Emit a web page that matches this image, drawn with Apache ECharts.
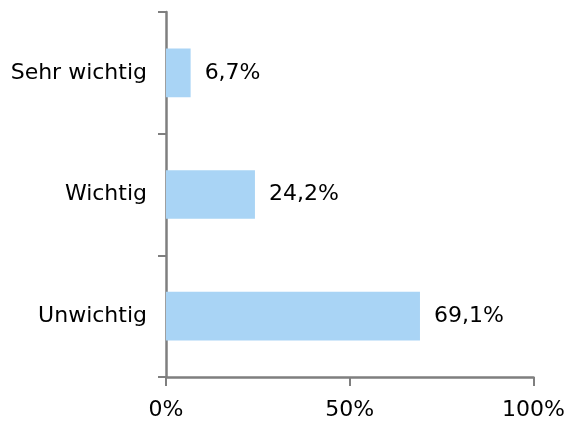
<!DOCTYPE html>
<html>
<head>
<meta charset="utf-8">
<script src="https://cdn.jsdelivr.net/npm/echarts@6/dist/echarts.min.js"></script>
<style>
  html, body { margin: 0; padding: 0; background: #fff; }
  #chart { width: 568px; height: 421px; }
</style>
</head>
<body>
<div id="chart"></div>
<script>
// Survey answers, bottom to top on the category axis
const categories = ['Unwichtig', 'Wichtig', 'Sehr wichtig'];
const shares = [69.1, 24.2, 6.7];
const xTicks = [0, 50, 100];

const font = 'DejaVu Sans, Verdana, sans-serif';
const axisGray = '#7f7f7f';
const textColor = '#000';

const chart = echarts.init(document.getElementById('chart'));
chart.setOption({
  animation: false,
  grid: { left: 166, right: 32, top: 12, bottom: 41, containLabel: false },
  xAxis: {
    type: 'value',
    min: xTicks[0],
    max: xTicks[xTicks.length - 1],
    interval: xTicks[1] - xTicks[0],
    axisLine: { show: true, lineStyle: { color: axisGray, width: 2.5 } },
    axisTick: { show: true, length: 9, lineStyle: { color: axisGray, width: 2 } },
    splitLine: { show: false },
    axisLabel: {
      formatter: v => v + '%',
      color: textColor, fontFamily: font, fontSize: 22, margin: 22
    }
  },
  yAxis: {
    type: 'category',
    data: categories,
    axisLine: { show: true, lineStyle: { color: axisGray, width: 2.5 } },
    axisTick: { show: true, length: 8, alignWithLabel: false, lineStyle: { color: axisGray, width: 2 } },
    axisLabel: { color: textColor, fontFamily: font, fontSize: 22, margin: 19 }
  },
  series: [{
    type: 'bar',
    data: shares,
    barWidth: '40%',
    itemStyle: { color: '#a9d4f5' },
    label: {
      show: true,
      position: 'right',
      distance: 14,
      formatter: p => String(p.value).replace('.', ',') + '%',
      color: textColor, fontFamily: font, fontSize: 22
    }
  }]
});
</script>
</body>
</html>
